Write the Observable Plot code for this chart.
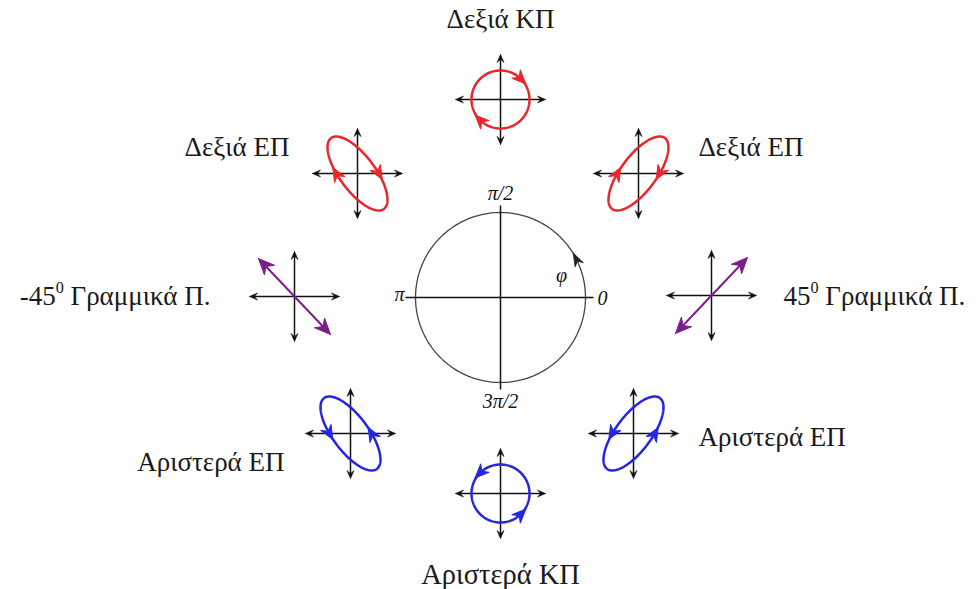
<!DOCTYPE html>
<html><head><meta charset="utf-8">
<script src="https://cdn.jsdelivr.net/npm/d3@7"></script>
<script src="https://cdn.jsdelivr.net/npm/@observablehq/plot@0.6"></script>
<style>html,body{margin:0;padding:0;background:#fff}</style>
</head><body><div id="chart"></div>
<script>
// ---------- data ----------
const phases = [0, 45, 90, 135, 180, 225, 270, 315]; // phase difference φ (degrees)
const stateLabels = ["45⁰ Γραμμικά Π.", "Δεξιά ΕΠ", "Δεξιά ΚΠ", "Δεξιά ΕΠ",
                     "-45⁰ Γραμμικά Π.", "Αριστερά ΕΠ", "Αριστερά ΚΠ", "Αριστερά ΕΠ"];
const phaseTicks = [0, 90, 180, 270];
const phaseTickLabels = ["0", "π/2", "π", "3π/2"];
const phaseSymbol = "φ";

// ---------- layout / style ----------
const W = 979, H = 589;
const iconPos = [[211,2],[138,124],[0,198],[-143,124],[-206,1],[-150,-136],[0,-196],[133,-136]];
const labelPos = [[283,1,"start"],[198,150,"start"],[0,278,"middle"],[-211,150,"end"],
                  [-290,1,"end"],[-216,-165,"end"],[0,-277,"middle"],[198,-140,"start"]];
const labelSize = [27,27,27,27,27,27,28.5,27];
const tickLabelPos = [[97,-1,"start"],[0,104,"middle"],[-96,3,"end"],[0,-104,"middle"]];
const COLORS = {right: "#e8262b", left: "#2626e2", linear: "#7b1e8c"};
const R = 85;            // big circle radius
const AXL = 45;          // icon axis half-length
const deg = Math.PI / 180;

function kindOf(phi) {
  const s = Math.sin(phi * deg);
  if (Math.abs(s) < 1e-6) return "linear";
  return s > 0 ? "right" : "left";
}
function amp(phi) {
  const k = kindOf(phi);
  if (k === "linear") return [36, 38];
  if (Math.abs(Math.abs(Math.sin(phi * deg)) - 1) < 1e-6) return [29, 29];
  return [30, 37];
}
function head(px, py, dx, dy, L, Wd, id, color, notch = 0.68) {
  const n = Math.hypot(dx, dy); dx /= n; dy /= n;
  const nx = -dy, ny = dx;
  const tx = px + dx * L * 0.5, ty = py + dy * L * 0.5;
  const bx = tx - dx * L, by = ty - dy * L;
  return [
    {id, x: tx, y: ty, color},
    {id, x: bx + nx * Wd / 2, y: by + ny * Wd / 2, color},
    {id, x: tx - dx * L * notch, y: ty - dy * L * notch, color},
    {id, x: bx - nx * Wd / 2, y: by - ny * Wd / 2, color},
    {id, x: tx, y: ty, color}
  ];
}

const curves = [], heads = [], linears = [], axes = [], axisHeads = [], labels = [];
phases.forEach((phi, i) => {
  const [cx, cy] = iconPos[i];
  const k = kindOf(phi), color = COLORS[k];
  const [ax, ay] = amp(phi);
  axes.push({x1: cx - AXL + 2, y1: cy, x2: cx + AXL - 2, y2: cy});
  axes.push({x1: cx, y1: cy - AXL + 2, x2: cx, y2: cy + AXL - 2});
  const aL = 8, aW = 7;
  for (const [dx, dy] of [[1,0],[-1,0],[0,1],[0,-1]]) {
    axisHeads.push(...head(cx + dx * (AXL - aL / 2), cy + dy * (AXL - aL / 2), dx, dy, aL, aW, "a" + i + dx + dy, "#111", 0.6));
  }
  if (k === "linear") {
    const sx = Math.cos(phi * deg) > 0 ? 1 : -1;
    const ex = ax, ey = ay * sx;
    linears.push({x1: cx - ex * 0.85, y1: cy - ey * 0.85, x2: cx + ex * 0.85, y2: cy + ey * 0.85, color});
    const L = 16, Wd = 14;
    const n = Math.hypot(ex, ey);
    for (const s of [1, -1]) {
      const dx = s * ex / n, dy = s * ey / n;
      heads.push(...head(cx + s * ex - dx * L / 2, cy + s * ey - dy * L / 2, dx, dy, L, Wd, "h" + i + s, color));
    }
  } else {
    for (let j = 0; j <= 180; j++) {
      const t = j / 180 * 360 * deg;
      curves.push({id: i, x: cx + ax * Math.cos(t), y: cy + ay * Math.cos(t + phi * deg), color});
    }
    const circ = ax === ay;
    const t0 = 90 - phi - (circ ? 45 : 0);
    for (const tt of [t0, t0 + 180]) {
      const t = tt * deg;
      const px = cx + ax * Math.cos(t), py = cy + ay * Math.cos(t + phi * deg);
      const dx = -ax * Math.sin(t), dy = -ay * Math.sin(t + phi * deg);
      heads.push(...head(px, py, dx, dy, 14, 12, "h" + i + "_" + tt, color));
    }
  }
  const [lx, ly, anchor] = labelPos[i];
  labels.push({x: lx, y: ly, anchor, text: stateLabels[i], size: labelSize[i]});
});

// central phase circle
const bigCircle = d3.range(0, 361, 2).map(a => ({x: R * Math.cos(a * deg), y: R * Math.sin(a * deg)}));
const bigAxes = [{x1: -95, y1: 0, x2: 93, y2: 0}, {x1: 0, y1: -92, x2: 0, y2: 92}];
const arrowAngle = 27;
const bigHead = head(R * Math.cos(arrowAngle * deg), R * Math.sin(arrowAngle * deg),
                     -Math.sin(arrowAngle * deg), Math.cos(arrowAngle * deg), 13, 9, "big", "#222");
const tickTexts = phaseTicks.map((p, i) => ({x: tickLabelPos[i][0], y: tickLabelPos[i][1], anchor: tickLabelPos[i][2], text: phaseTickLabels[i]}));

const serif = "Liberation Serif";
const textMarks = [];
for (const a of ["start", "middle", "end"]) {
  textMarks.push(Plot.text(labels.filter(d => d.anchor === a), {
    x: "x", y: "y", text: "text", textAnchor: a, fontSize: d => d.size, fill: "#1a1a1a",
    fontFamily: serif
  }));
  textMarks.push(Plot.text(tickTexts.filter(d => d.anchor === a), {
    x: "x", y: "y", text: "text", textAnchor: a, fontSize: 20, fontStyle: "italic", fill: "#111",
    fontFamily: serif
  }));
}

const chart = Plot.plot({
  width: W, height: H, margin: 0,
  x: {domain: [-500, W - 500], axis: null},
  y: {domain: [297 - H, 297], axis: null},
  color: {type: "identity"},
  style: {background: "#fff", overflow: "visible"},
  marks: [
    Plot.line(bigCircle, {x: "x", y: "y", stroke: "#444", strokeWidth: 1.3}),
    Plot.link(bigAxes, {x1: "x1", y1: "y1", x2: "x2", y2: "y2", stroke: "#111", strokeWidth: 1.5}),
    Plot.line(bigHead, {x: "x", y: "y", z: "id", fill: "color", stroke: "color", strokeWidth: 1}),
    Plot.text([{x: 61, y: 22, t: phaseSymbol}], {x: "x", y: "y", text: "t", fontSize: 20, fontStyle: "italic", fontFamily: serif, fill: "#111"}),
    Plot.link(axes, {x1: "x1", y1: "y1", x2: "x2", y2: "y2", stroke: "#111", strokeWidth: 1.5}),
    Plot.line(axisHeads, {x: "x", y: "y", z: "id", fill: "color", stroke: "color", strokeWidth: 0.6}),
    Plot.line(curves, {x: "x", y: "y", z: "id", stroke: "color", strokeWidth: 2.5}),
    Plot.link(linears, {x1: "x1", y1: "y1", x2: "x2", y2: "y2", stroke: "color", strokeWidth: 2}),
    Plot.line(heads, {x: "x", y: "y", z: "id", fill: "color", stroke: "color", strokeWidth: 1}),
    ...textMarks
  ]
});
// render the degree-like superscript "0" as a real superscript
chart.querySelectorAll("text").forEach(el => {
  const s = el.textContent;
  if (!s.includes("⁰")) return;
  const [pre, post] = s.split("⁰");
  el.textContent = "";
  const NS = "http://www.w3.org/2000/svg";
  const t1 = document.createElementNS(NS, "tspan"); t1.textContent = pre;
  const t2 = document.createElementNS(NS, "tspan"); t2.textContent = "0";
  t2.setAttribute("font-size", "0.6em"); t2.setAttribute("dy", "-0.75em");
  const t3 = document.createElementNS(NS, "tspan"); t3.textContent = post;
  t3.setAttribute("dy", "0.45em");
  el.append(t1, t2, t3);
});
document.getElementById("chart").append(chart);
</script>
</body></html>
